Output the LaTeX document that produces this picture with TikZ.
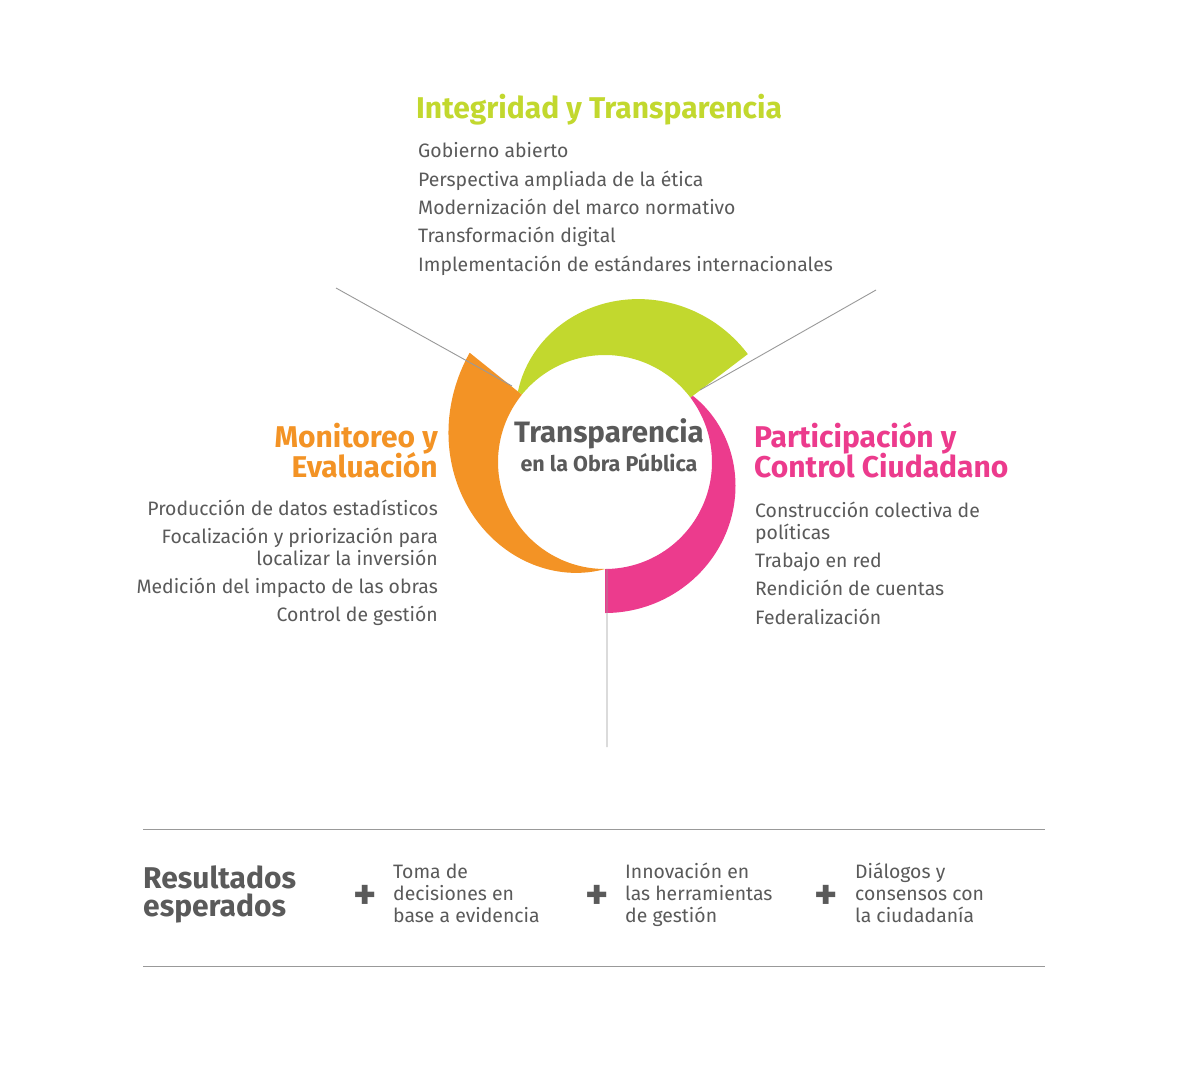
\documentclass[tikz,border=0pt]{standalone}
\usepackage{fontspec}
\setmainfont{Fira Sans}
\begin{document}
\begin{tikzpicture}[x=1pt,y=-1pt,
  body/.style={font=\fontsize{19.4}{21}\selectfont,text=txt,inner sep=0pt},
  head/.style={font=\fontsize{30}{32}\selectfont\bfseries,inner sep=0pt},
  sep/.style={draw=gray!80,line width=0.9pt},
  plus/.style={font=\fontsize{44}{44}\selectfont\bfseries,text=txt,inner sep=0pt}]
\definecolor{txt}{HTML}{5A5A5A}
\definecolor{cgreen}{HTML}{C2D82E}
\definecolor{cpink}{HTML}{EC3B8D}
\definecolor{corange}{HTML}{F39325}
\useasboundingbox[fill=white] (0,0) rectangle (1203,1080);
\def\cx{605}\def\cy{462}\def\ri{107}
\fill[cgreen] plot[domain=0:1,samples=60,smooth] ({\cx+(\ri+5+67*sin(90*\x))*cos(141-104*\x)},{\cy-(\ri+5+67*sin(90*\x))*sin(141-104*\x)})
  -- plot[domain=1:0,samples=60,smooth] ({\cx+\ri*cos(141-104*\x)},{\cy-\ri*sin(141-104*\x)}) -- cycle;
\fill[cpink] plot[domain=0:1,samples=60,smooth] ({\cx+(\ri+3+41*sin(90*\x))*cos(37-127*\x)},{\cy-(\ri+3+41*sin(90*\x))*sin(37-127*\x)})
  -- plot[domain=1:0,samples=60,smooth] ({\cx+\ri*cos(37-127*\x)},{\cy-\ri*sin(37-127*\x)}) -- cycle;
\fill[corange] plot[domain=0:1,samples=60,smooth] ({\cx+(\ri+67*\x)*cos(270-129*\x)},{\cy-(\ri+67*\x)*sin(270-129*\x)})
  -- plot[domain=1:0,samples=60,smooth] ({\cx+\ri*cos(270-129*\x)},{\cy-\ri*sin(270-129*\x)}) -- cycle;
\coordinate (l1) at (336,288); \coordinate (l2) at (512,386);
\coordinate (r1) at (876,290); \coordinate (r2) at (700,390);
\coordinate (b1) at (607,569); \coordinate (b2) at (607,747);
\draw[gray!80,line width=0.9pt] (l1)--(l2) (r1)--(r2) (b1)--(b2);
\node[font=\fontsize{29.5}{30}\selectfont\bfseries,text=txt,inner sep=0pt] (c1) at (609,434) {Transparencia};
\node[font=\fontsize{21.5}{22}\selectfont\bfseries,text=txt,inner sep=0pt] (c2) at (609,463) {en la Obra Pública};
\node[head,text=cgreen,anchor=base west] (t0) at (416,118) {Integridad y Transparencia};
\node[body,anchor=base west] (t1) at (418,157) {Gobierno abierto};
\node[body,anchor=base west] (t2) at (418,186) {Perspectiva ampliada de la ética};
\node[body,anchor=base west] (t3) at (418,214) {Modernización del marco normativo};
\node[body,anchor=base west] (t4) at (418,242) {Transformación digital};
\node[body,anchor=base west] (t5) at (418,271) {Implementación de estándares internacionales};
\node[head,text=corange,anchor=base east] (m0) at (438,447) {Monitoreo y};
\node[head,text=corange,anchor=base east] (m0b) at (438,477) {Evaluación};
\node[body,anchor=base east] (m1) at (438,515) {Producción de datos estadísticos};
\node[body,anchor=base east] (m2) at (438,543) {Focalización y priorización para};
\node[body,anchor=base east] (m2b) at (438,565) {localizar la inversión};
\node[body,anchor=base east] (m3) at (438,593) {Medición del impacto de las obras};
\node[body,anchor=base east] (m4) at (438,621) {Control de gestión};
\node[head,text=cpink,anchor=base west] (p0) at (754,447) {Participación y};
\node[head,text=cpink,anchor=base west] (p0b) at (754,477) {Control Ciudadano};
\node[body,anchor=base west] (p1) at (755,517) {Construcción colectiva de};
\node[body,anchor=base west] (p1b) at (755,539) {políticas};
\node[body,anchor=base west] (p2) at (755,567) {Trabajo en red};
\node[body,anchor=base west] (p3) at (755,595) {Rendición de cuentas};
\node[body,anchor=base west] (p4) at (755,624) {Federalización};
\coordinate (h1a) at (143,829); \coordinate (h1b) at (1045,829);
\coordinate (h2a) at (143,966); \coordinate (h2b) at (1045,966);
\draw[sep] (h1a)--(h1b) (h2a)--(h2b);
\node[head,text=txt,anchor=base west] (re1) at (143,888) {Resultados};
\node[head,text=txt,anchor=base west] (re2) at (143,916) {esperados};
\node[plus] (pl1) at (365,897) {+};
\node[plus] (pl2) at (597,897) {+};
\node[plus] (pl3) at (826,897) {+};
\node[body,anchor=base west] (a1) at (393,878) {Toma de};
\node[body,anchor=base west] (a2) at (393,900) {decisiones en};
\node[body,anchor=base west] (a3) at (393,922) {base a evidencia};
\node[body,anchor=base west] (b1t) at (625,878) {Innovación en};
\node[body,anchor=base west] (b2t) at (625,900) {las herramientas};
\node[body,anchor=base west] (b3t) at (625,922) {de gestión};
\node[body,anchor=base west] (d1) at (855,878) {Diálogos y};
\node[body,anchor=base west] (d2) at (855,900) {consensos con};
\node[body,anchor=base west] (d3) at (855,922) {la ciudadanía};
\end{tikzpicture}
\end{document}
